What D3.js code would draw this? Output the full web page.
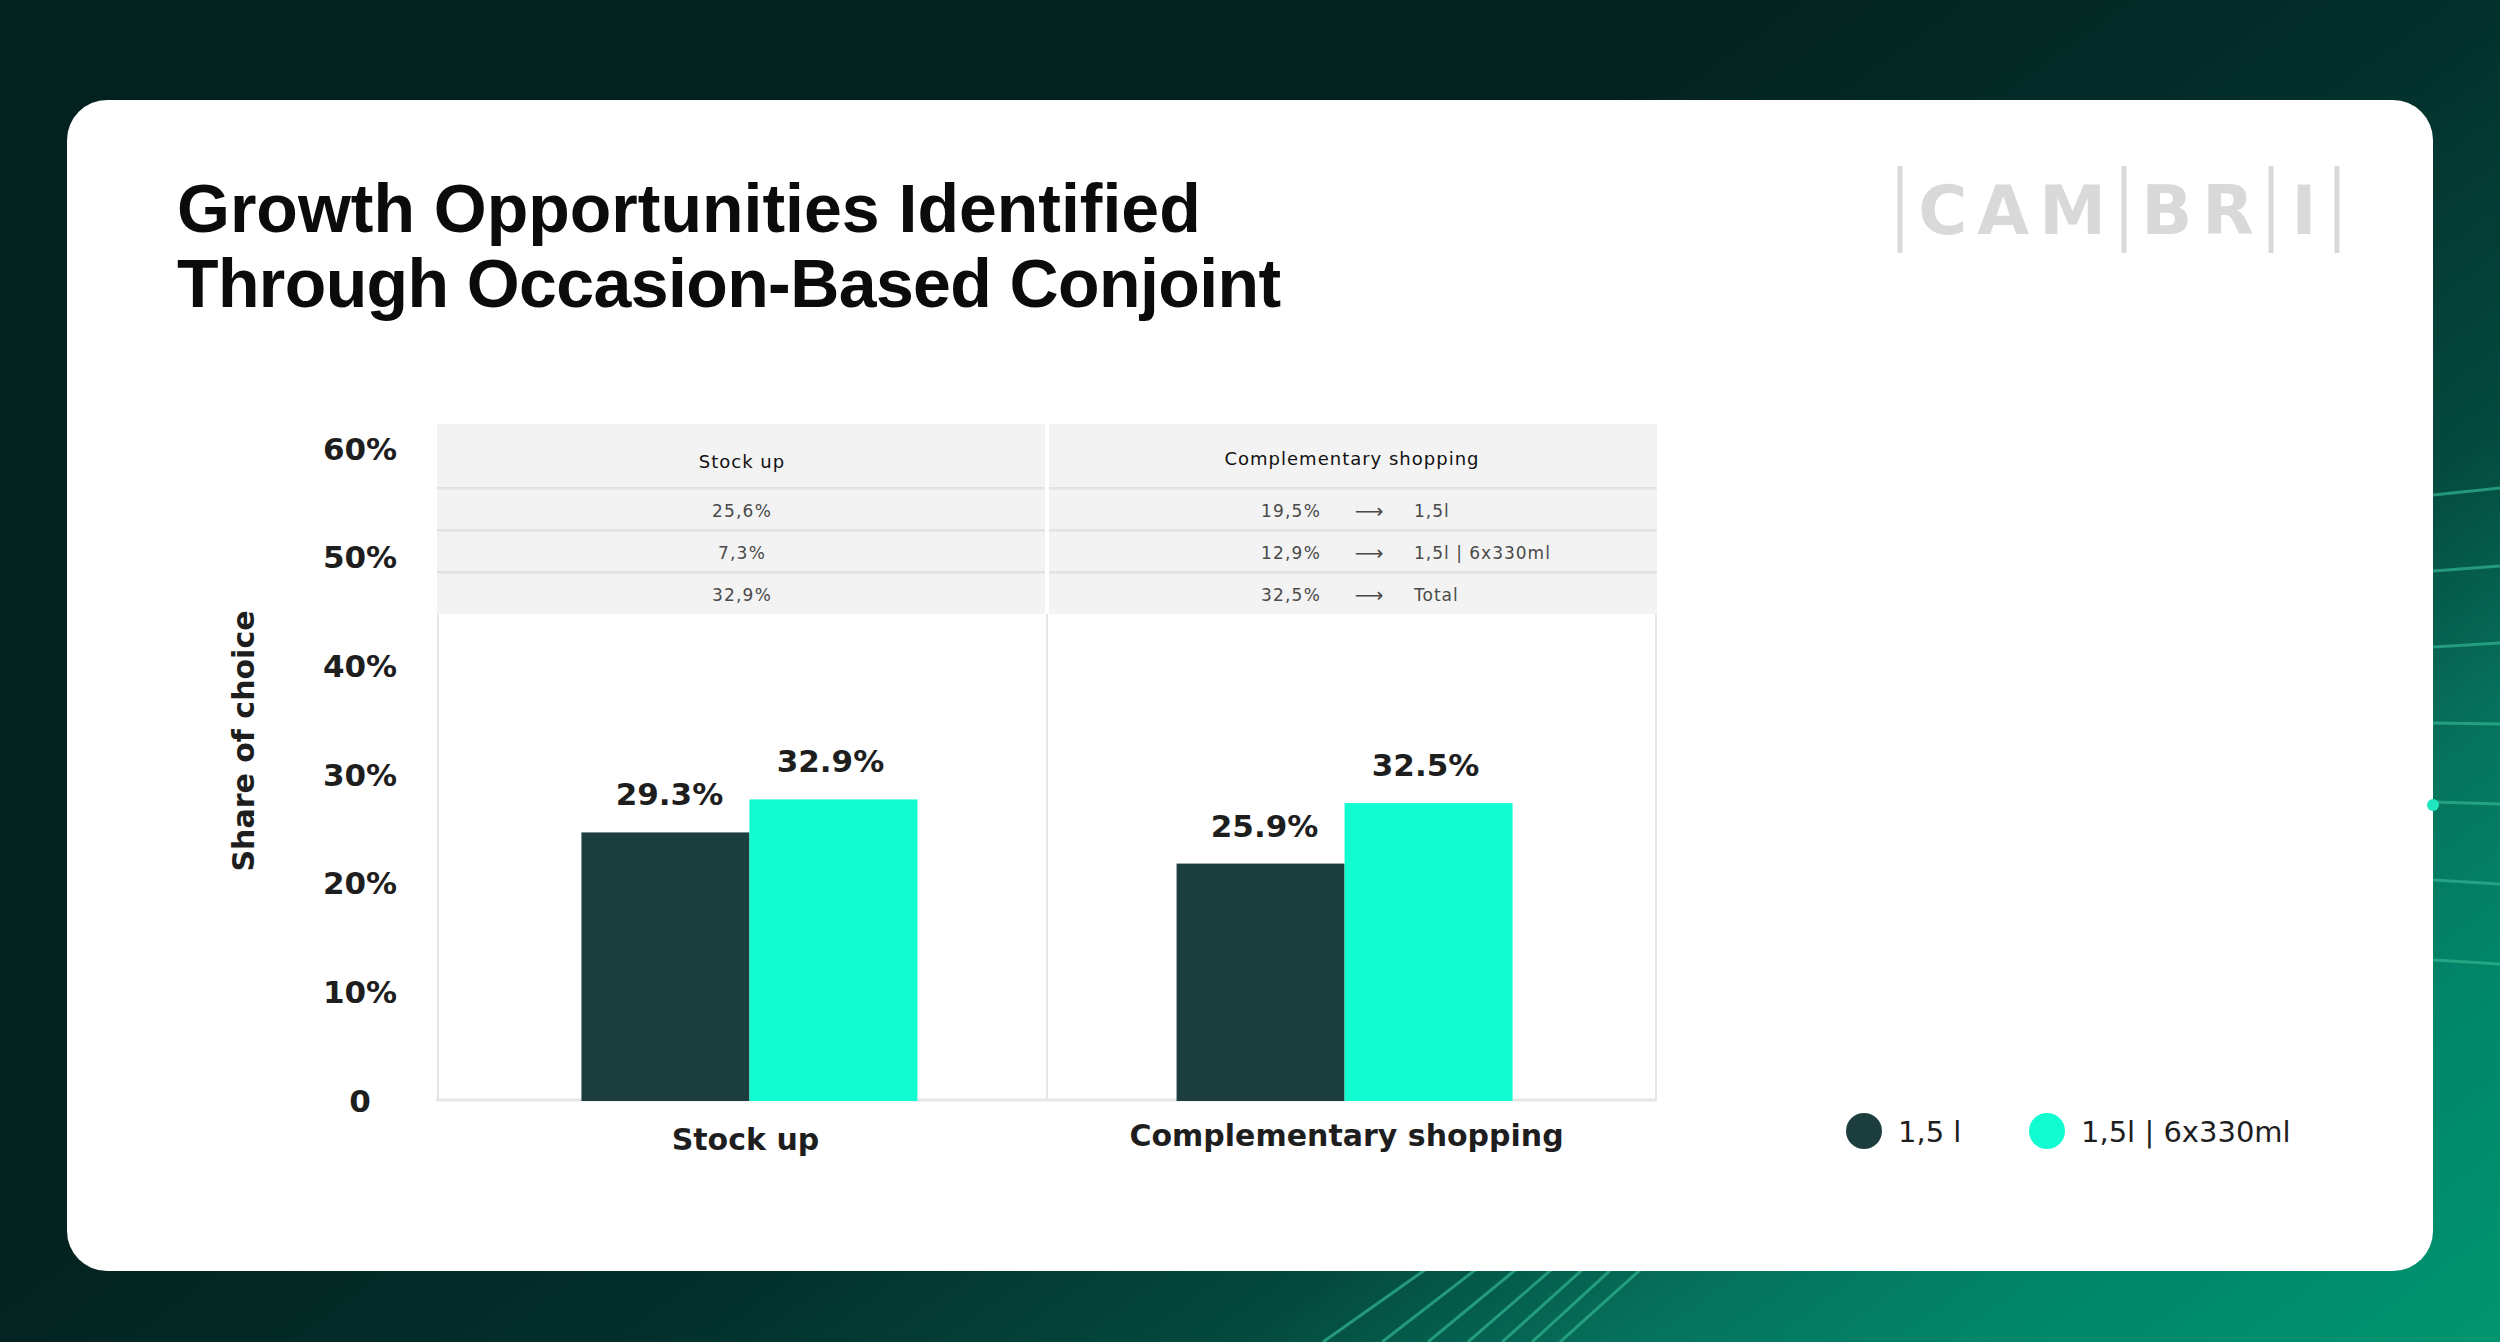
<!DOCTYPE html>
<html><head><meta charset="utf-8">
<script src="https://cdn.jsdelivr.net/npm/d3@7"></script>
<style>html,body{margin:0;padding:0;background:#032a29;overflow:hidden;} svg{display:block;}</style>
</head><body><svg id="c" width="2500" height="1342"></svg>
<script>
// ---- data ----
const categories = ["Stock up", "Complementary shopping"];
const seriesNames = ["1,5 l", "1,5l | 6x330ml"];
const series1 = [29.3, 25.9];          // 1,5 l
const series2 = [32.9, 32.5];          // 1,5l | 6x330ml
const yTicks = [0, 10, 20, 30, 40, 50, 60];
const tableHeader = ["Stock up", "Complementary shopping"];
const stockUpShares = ["25,6%", "7,3%", "32,9%"];
const complementaryShares = ["19,5%", "12,9%", "32,5%"];
const complementaryFormats = ["1,5l", "1,5l | 6x330ml", "Total"];
const seriesColors = ["#1d3e3f", "#11fcd0"];
const yTitle = "Share of choice";
const titleLines = ["Growth Opportunities Identified", "Through Occasion-Based Conjoint"];
const logoParts = ["CAM", "BR", "I"];

const W = 2500, H = 1342;
const svg = d3.select("#c");
const defs = svg.append("defs");

// ---- background ----
const grad = defs.append("linearGradient").attr("id", "bg")
  .attr("gradientUnits", "userSpaceOnUse")
  .attr("x1", 590).attr("y1", 810).attr("x2", 1510).attr("y2", 2074);
[[0, "#03221f"], [0.30, "#03302c"], [0.52, "#044a3e"], [0.67, "#06735d"], [0.81, "#00876a"], [1, "#00956f"]]
  .forEach(([o, c]) => grad.append("stop").attr("offset", o).attr("stop-color", c));
svg.append("rect").attr("width", W).attr("height", H).attr("fill", "url(#bg)");

// decorative lines (background art)
const deco = svg.append("g").attr("stroke", "#2fb08e").attr("stroke-opacity", 0.75)
  .attr("stroke-width", 3).attr("fill", "none");
const bottomTops = [1423, 1470, 1508, 1542, 1572, 1600, 1630];
const bottomBots = [1323, 1382, 1428, 1468, 1502, 1532, 1560];
bottomTops.forEach((t, i) => deco.append("line")
  .attr("x1", t + 40).attr("y1", 1243).attr("x2", bottomBots[i]).attr("y2", 1342));
const rightL = [495, 571, 647, 723, 802, 880, 960];
const rightR = [488, 566, 643, 724, 804, 884, 964];
rightL.forEach((l, i) => deco.append("line")
  .attr("x1", 2400).attr("y1", l + (l - rightR[i]) * 0.5).attr("x2", 2500).attr("y2", rightR[i]));

// card
svg.append("rect").attr("x", 67).attr("y", 100).attr("width", 2366).attr("height", 1171)
  .attr("rx", 40).attr("fill", "#ffffff");
svg.append("circle").attr("cx", 2433).attr("cy", 805).attr("r", 6).attr("fill", "#1fe6bf");

// ---- title ----
const title = svg.append("text").attr("x", 177).attr("y", 232)
  .attr("font-family", "'Liberation Sans', Arial, sans-serif").attr("font-weight", 700)
  .attr("font-size", 68).attr("fill", "#0b0b0b");
titleLines.forEach((t, i) => title.append("tspan").attr("x", 177).attr("dy", i ? 75 : 0)
  .attr("letter-spacing", i ? -0.6 : 0).text(t));

// ---- logo ----
const logo = svg.append("g").attr("fill", "#d9d9d9");
const logoBars = [1900, 2124, 2271, 2337];
logoBars.forEach(x => logo.append("rect").attr("x", x - 2.5).attr("y", 166).attr("width", 5).attr("height", 87));
logoParts.forEach((p, i) => {
  const cx = (logoBars[i] + logoBars[i + 1]) / 2;
  logo.append("text").attr("x", cx + 5).attr("y", 234).attr("text-anchor", "middle")
    .attr("font-family", "'DejaVu Sans', sans-serif").attr("font-weight", 700)
    .attr("font-size", 67).attr("letter-spacing", 10).text(p);
});

// ---- scales ----
const xb = d3.scaleBand().domain(categories).range([437, 1657]).paddingInner(0).paddingOuter(0);
const xBars = xb.copy().paddingOuter(0.025);
const xSeries = d3.scaleBand().domain([0, 1]).range([0, 336]);
const yBar = d3.scaleLinear().domain([0, 60]).range([1101, 551]);
const yTick = d3.scaleLinear().domain([0, 60]).range([1100, 448]);

// ---- table above plot ----
const tableTop = 424, headerBottom = 488, tableBottom = 614;
const rowY = d3.scaleBand().domain([0, 1, 2]).range([headerBottom, tableBottom]);
const tbl = svg.append("g");
categories.forEach((c, i) => {
  const x0 = xb(c) + (i ? 2 : 0), w = xb.bandwidth() - 2;
  tbl.append("rect").attr("x", x0).attr("y", tableTop).attr("width", w)
    .attr("height", tableBottom - tableTop).attr("fill", "#f3f3f3");
  [headerBottom, rowY(1), rowY(2)].forEach(y => tbl.append("rect")
    .attr("x", x0).attr("y", y - 1).attr("width", w).attr("height", 2.5).attr("fill", "#e2e2e2"));
});
const tFont = "'DejaVu Sans', sans-serif";
tableHeader.forEach((h, i) => {
  tbl.append("text").attr("x", xb(categories[i]) + xb.bandwidth() / 2).attr("y", 462 - i * 3)
    .attr("dy", "0.35em").attr("text-anchor", "middle").attr("font-family", tFont)
    .attr("font-size", 18).attr("letter-spacing", 1.0).attr("fill", "#111").text(h);
});
const c0 = xb(categories[0]) + xb.bandwidth() / 2;
const c1 = xb(categories[1]) + xb.bandwidth() / 2;
stockUpShares.forEach((v, r) => {
  tbl.append("text").attr("x", c0).attr("y", rowY(r) + rowY.bandwidth() / 2 + 2).attr("dy", "0.35em")
    .attr("text-anchor", "middle").attr("font-family", tFont).attr("font-size", 17)
    .attr("letter-spacing", 1.2).attr("fill", "#4a4a4a").text(v);
});
complementaryShares.forEach((v, r) => {
  const y = rowY(r) + rowY.bandwidth() / 2 + 2;
  tbl.append("text").attr("x", c1 - 31).attr("y", y).attr("dy", "0.35em")
    .attr("text-anchor", "end").attr("font-family", tFont).attr("font-size", 17)
    .attr("letter-spacing", 1.2).attr("fill", "#4a4a4a").text(v);
  tbl.append("text").attr("x", c1 + 17).attr("y", y).attr("dy", "0.35em")
    .attr("text-anchor", "middle").attr("font-family", tFont).attr("font-size", 20)
    .attr("fill", "#4a4a4a").text("\u27F6");
  tbl.append("text").attr("x", c1 + 62).attr("y", y).attr("dy", "0.35em")
    .attr("text-anchor", "start").attr("font-family", tFont).attr("font-size", 17)
    .attr("letter-spacing", 1.0).attr("fill", "#4a4a4a").text(complementaryFormats[r]);
});

// ---- plot frame ----
const frame = svg.append("g").attr("stroke", "#e6e6e6").attr("stroke-width", 2);
[xb(categories[0]) + 1, xb(categories[1]), xb.range()[1] - 1].forEach(x =>
  frame.append("line").attr("x1", x).attr("x2", x).attr("y1", tableBottom).attr("y2", 1100));
frame.append("line").attr("x1", 436).attr("x2", 1657).attr("y1", 1100).attr("y2", 1100).attr("stroke-width", 3);

// ---- bars ----
const seriesVals = [series1, series2];
const barsG = svg.append("g");
categories.forEach((c, ci) => {
  const gx = xBars(c) + (xBars.bandwidth() - 336) / 2;
  seriesVals.forEach((vals, si) => {
    const v = vals[ci];
    barsG.append("rect").attr("x", gx + xSeries(si)).attr("y", yBar(v))
      .attr("width", xSeries.bandwidth()).attr("height", yBar(0) - yBar(v)).attr("fill", seriesColors[si]);
    barsG.append("text").attr("x", gx + xSeries(si) + xSeries.bandwidth() / 2 + (si ? -3 : 4))
      .attr("y", yBar(v) - 27).attr("text-anchor", "middle")
      .attr("font-family", "'DejaVu Sans', sans-serif").attr("font-weight", 700)
      .attr("font-size", 31).attr("fill", "#1e1e1e").text(d3.format(".1f")(v) + "%");
  });
});

// category labels
categories.forEach((c, i) => {
  svg.append("text").attr("x", xBars(c) + xBars.bandwidth() / 2 + (i ? 2 : -4)).attr("y", 1150 - i * 4)
    .attr("text-anchor", "middle").attr("font-family", "'DejaVu Sans', sans-serif")
    .attr("font-weight", 700).attr("font-size", 30).attr("fill", "#1e1e1e").text(c);
});

// ---- y axis ----
const yAxisG = svg.append("g").attr("transform", "translate(360,0)")
  .call(d3.axisLeft(yTick).tickValues(yTicks).tickSize(0).tickFormat(d => d === 0 ? "0" : d + "%"));
yAxisG.select(".domain").remove();
yAxisG.selectAll("text").attr("x", 0).attr("dy", "0.36em").attr("text-anchor", "middle")
  .attr("font-family", "'DejaVu Sans', sans-serif").attr("font-weight", 700)
  .attr("font-size", 31).attr("fill", "#1e1e1e");
yAxisG.attr("font-family", null).attr("font-size", null);

svg.append("text").attr("transform", "translate(243,741) rotate(-90)")
  .attr("text-anchor", "middle").attr("dominant-baseline", "central")
  .attr("font-family", "'DejaVu Sans', sans-serif").attr("font-weight", 700)
  .attr("font-size", 30).attr("fill", "#1e1e1e").text(yTitle);

// ---- legend ----
const legend = svg.append("g");
seriesNames.forEach((n, i) => {
  const lx = 1864 + i * 183;
  legend.append("circle").attr("cx", lx).attr("cy", 1131).attr("r", 18).attr("fill", seriesColors[i]);
  legend.append("text").attr("x", lx + 34).attr("y", 1142)
    .attr("font-family", "'DejaVu Sans', sans-serif").attr("font-size", 29)
    .attr("fill", "#1e1e1e").text(n);
});
</script></body></html>
